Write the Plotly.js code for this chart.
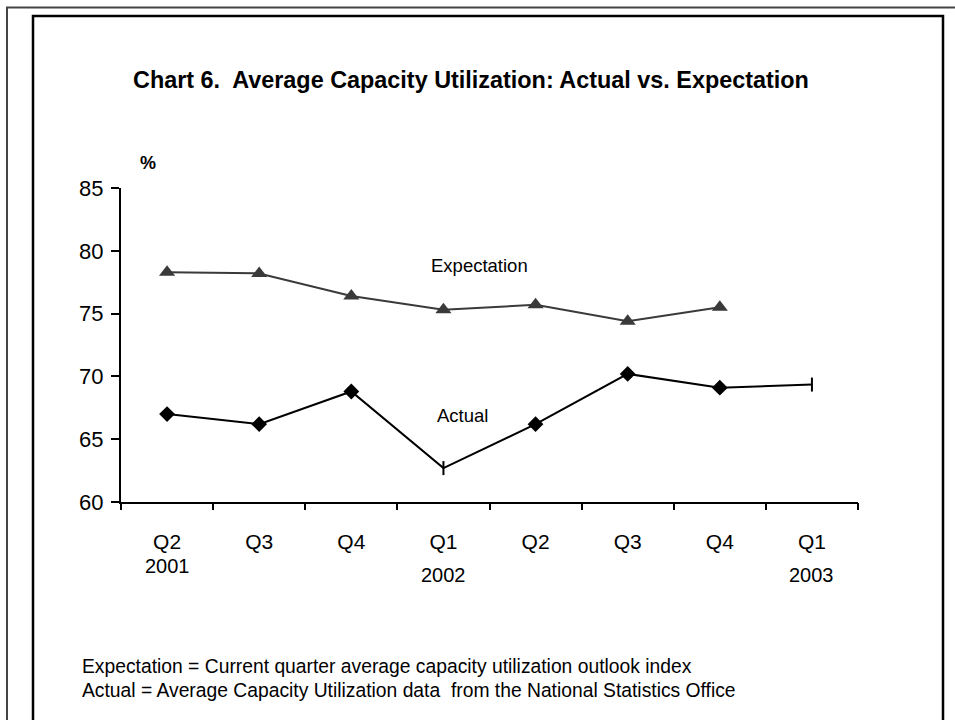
<!DOCTYPE html>
<html>
<head>
<meta charset="utf-8">
<script src="https://cdn.plot.ly/plotly-3.0.1.min.js"></script>
<style>html,body{margin:0;padding:0;background:#fff;}#chart{width:955px;height:720px;}</style>
</head>
<body>
<div id="chart"></div>
<script>
// Data
const quarters = ['Q2 2001','Q3 2001','Q4 2001','Q1 2002','Q2 2002','Q3 2002','Q4 2002','Q1 2003'];
const quarterLabels = ['Q2','Q3','Q4','Q1','Q2','Q3','Q4','Q1'];
const yearLabels = ['2001','2002','2003'];
const yearPositions = [0, 3, 7];
const expectation = [78.3, 78.2, 76.4, 75.3, 75.7, 74.4, 75.5, null];
const actual = [67.0, 66.2, 68.8, 62.7, 66.2, 70.2, 69.1, 69.35];
const actualSymbols = ['diamond','diamond','diamond','line-ns','diamond','diamond','diamond','line-ns'];

const idx = quarters.map((q, i) => i);
const boundaries = quarters.concat(['']).map((q, i) => i - 0.5);

const font = 'Liberation Sans, Arial, sans-serif';

const traces = [
  {
    x: idx, y: expectation, type: 'scatter', mode: 'lines+markers',
    line: {color: '#3a3a3a', width: 2},
    marker: {symbol: 'triangle-up', size: 14, color: '#3a3a3a'},
    showlegend: false
  },
  {
    x: idx, y: actual, type: 'scatter', mode: 'lines+markers',
    line: {color: '#000', width: 2},
    marker: {symbol: actualSymbols, size: 10, color: '#000', line: {color: '#000', width: 2}},
    showlegend: false
  },
  {
    x: [-0.5, 7.5], y: [null, null], xaxis: 'x2', type: 'scatter', mode: 'lines',
    showlegend: false, hoverinfo: 'skip'
  }
];

const px = v => (v - 121) / 737;
const py = v => (502 - v) / 314;

const annotations = yearLabels.map((t, i) => ({
  text: t, x: yearPositions[i], xref: 'x', y: py(i === 0 ? 566 : 575), yref: 'paper',
  showarrow: false, font: {family: font, size: 20, color: '#000'}, xanchor: 'center', yanchor: 'middle'
}));
annotations.push(
  {text: '<b>%</b>', x: px(148), xref: 'paper', y: py(163), yref: 'paper', showarrow: false,
   font: {family: font, size: 18, color: '#000'}, xanchor: 'center', yanchor: 'middle'},
  {text: 'Expectation', x: px(479), xref: 'paper', y: py(265), yref: 'paper', showarrow: false,
   font: {family: font, size: 18.5, color: '#000'}, xanchor: 'center', yanchor: 'middle'},
  {text: 'Actual', x: px(462), xref: 'paper', y: py(415), yref: 'paper', showarrow: false,
   font: {family: font, size: 18.5, color: '#000'}, xanchor: 'center', yanchor: 'middle'},
  {text: 'Expectation = Current quarter average capacity utilization outlook index', x: px(80), xref: 'paper', y: py(666), yref: 'paper', showarrow: false,
   font: {family: font, size: 19.3, color: '#000'}, xanchor: 'left', yanchor: 'middle'},
  {text: 'Actual = Average Capacity Utilization data  from the National Statistics Office', x: px(80), xref: 'paper', y: py(690), yref: 'paper', showarrow: false,
   font: {family: font, size: 19.3, color: '#000'}, xanchor: 'left', yanchor: 'middle'}
);

const layout = {
  width: 955, height: 720,
  margin: {l: 121, r: 97, t: 188, b: 218},
  paper_bgcolor: '#fff', plot_bgcolor: '#fff',
  font: {family: font, color: '#000'},
  title: {
    text: '<b>Chart 6.  Average Capacity Utilization: Actual vs. Expectation</b>',
    x: 133 / 955, xanchor: 'left', xref: 'container',
    y: 1 - 80 / 720, yanchor: 'middle', yref: 'container',
    font: {family: font, size: 23.4, color: '#000'}
  },
  xaxis: {
    range: [-0.5, 7.5], tickmode: 'array', tickvals: idx, ticktext: quarterLabels,
    ticks: '', showgrid: false, zeroline: false,
    showline: true, linecolor: '#000', linewidth: 2,
    tickfont: {family: font, size: 21, color: '#000'}, ticklabelstandoff: 20
  },
  xaxis2: {
    overlaying: 'x', matches: 'x', range: [-0.5, 7.5], tickmode: 'array', tickvals: boundaries,
    ticks: 'outside', ticklen: 7, tickwidth: 2, tickcolor: '#000',
    showticklabels: false, showgrid: false, zeroline: false, showline: false, anchor: 'y', side: 'bottom'
  },
  yaxis: {
    range: [60, 85], tickmode: 'array', tickvals: [60, 65, 70, 75, 80, 85],
    ticks: 'outside', ticklen: 8, tickwidth: 2, tickcolor: '#000',
    showgrid: false, zeroline: false, showline: true, linecolor: '#000', linewidth: 2,
    tickfont: {family: font, size: 22, color: '#000'}, ticklabelstandoff: 3
  },
  annotations: annotations,
  shapes: [
    {type: 'rect', xref: 'paper', yref: 'paper', x0: px(7), x1: px(965), y0: py(740), y1: py(7.5),
     line: {color: '#444', width: 2}, fillcolor: 'rgba(0,0,0,0)', layer: 'below'},
    {type: 'rect', xref: 'paper', yref: 'paper', x0: px(33), x1: px(943), y0: py(735), y1: py(16),
     line: {color: '#000', width: 2.5}, fillcolor: 'rgba(0,0,0,0)', layer: 'below'}
  ],
  hovermode: false
};

Plotly.newPlot('chart', traces, layout, {displayModeBar: false, staticPlot: true});
</script>
</body>
</html>
